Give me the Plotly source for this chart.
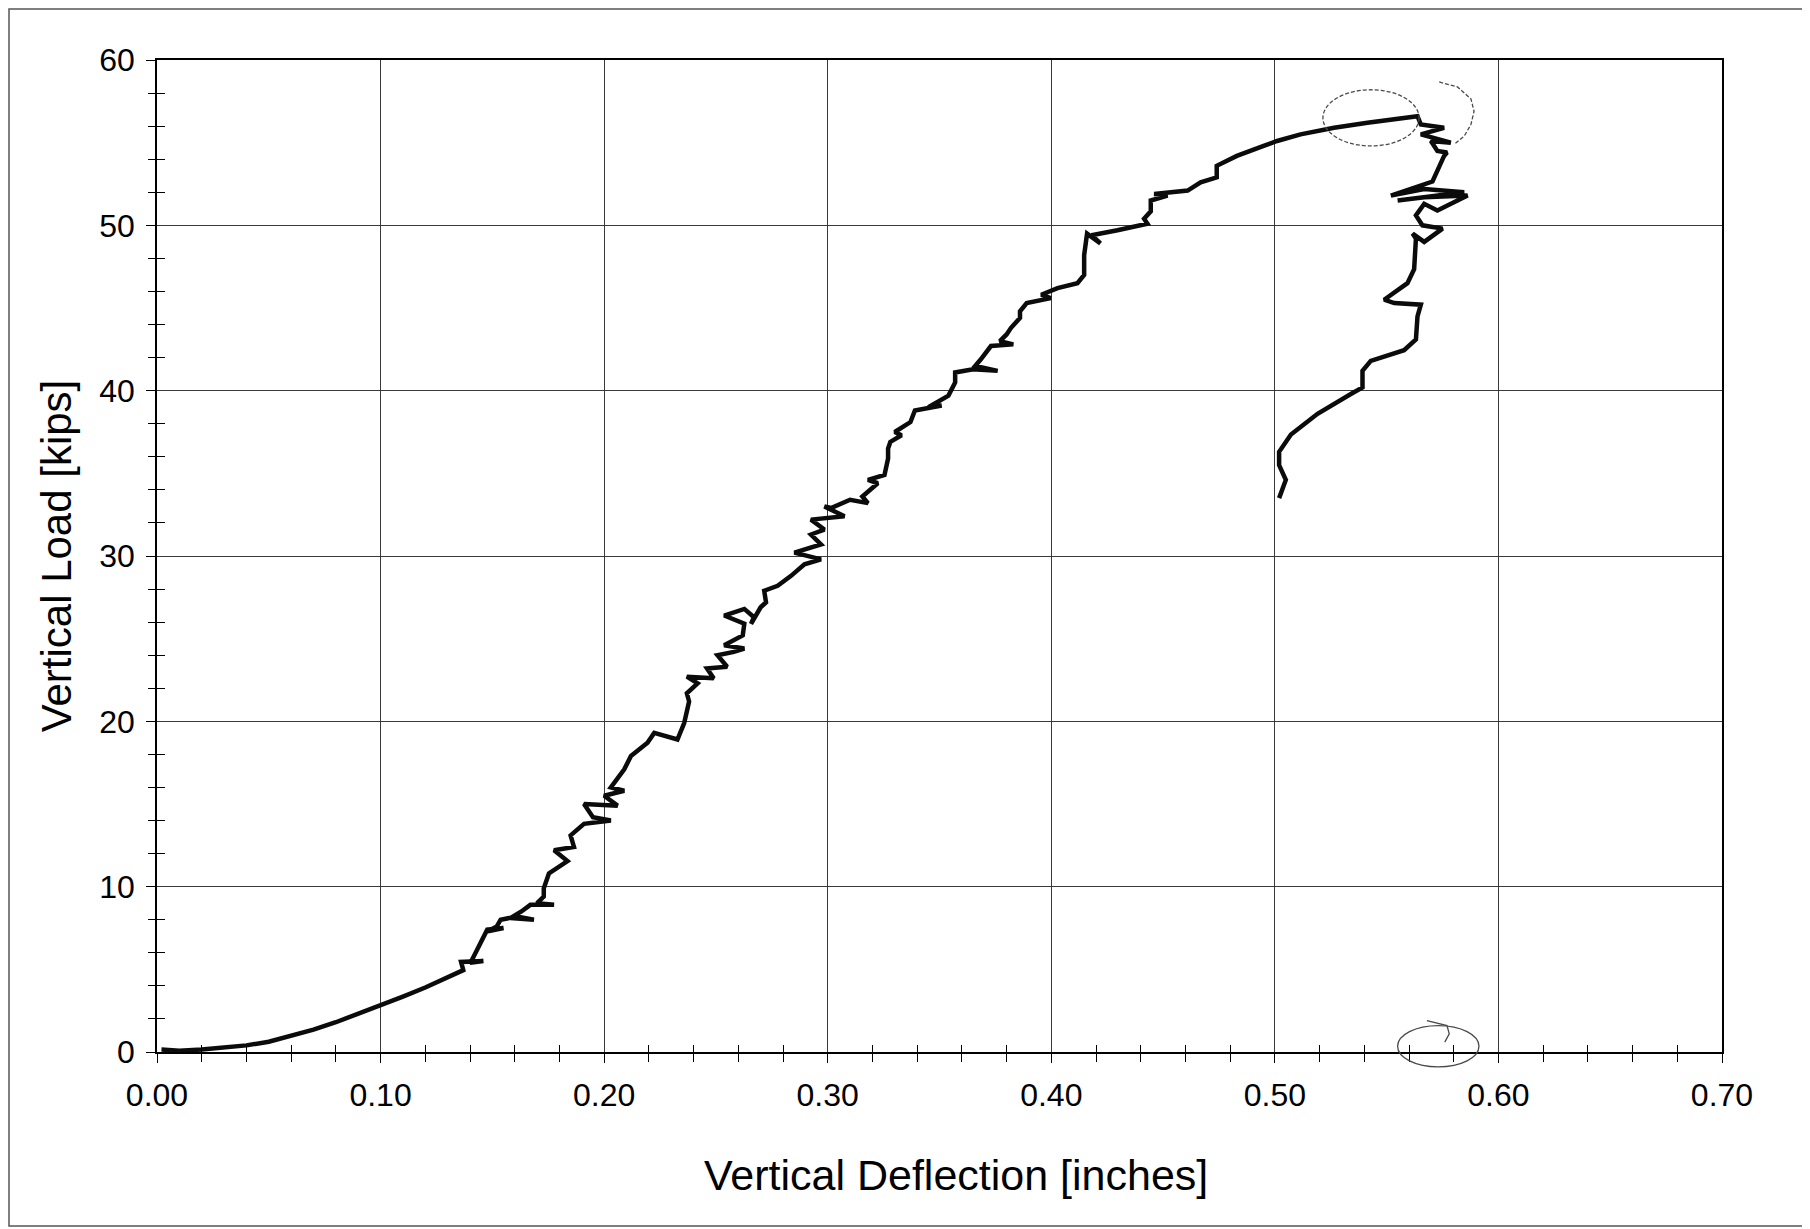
import plotly.graph_objects as go

# ---- data ----
deflection = [
    0.002, 0.005, 0.010, 0.020, 0.030, 0.040, 0.050, 0.060, 0.070, 0.080,
    0.090, 0.100, 0.110, 0.120, 0.130, 0.137,
    0.136, 0.146, 0.140, 0.141,
    0.1477, 0.155, 0.148, 0.152,
    0.1537, 0.161, 0.1686, 0.158,
    0.163, 0.167, 0.1776, 0.170,
    0.173, 0.173, 0.1753, 0.1836, 0.1776, 0.1865, 0.185, 0.191, 0.203, 0.195,
    0.191, 0.206, 0.200, 0.209, 0.203, 0.209, 0.212, 0.2194,
    0.2224, 0.2328, 0.2358, 0.237, 0.238, 0.237, 0.2418, 0.237, 0.249, 0.246,
    0.255, 0.2507, 0.258, 0.2627, 0.2537, 0.262, 0.2627, 0.2537, 0.2627, 0.267,
    0.2657, 0.270, 0.2724, 0.2716, 0.2776, 0.2836, 0.2896, 0.297, 0.2851, 0.297,
    0.2925, 0.2985, 0.2925, 0.3075, 0.2985, 0.3015,
    0.310, 0.318, 0.3155, 0.3224, 0.318, 0.3254, 0.327, 0.327, 0.328, 0.333,
    0.330, 0.337, 0.339, 0.351, 0.345, 0.354, 0.357, 0.357, 0.365, 0.376,
    0.366, 0.3685, 0.373, 0.383, 0.377, 0.380, 0.382, 0.386, 0.386, 0.389,
    0.3998, 0.3955, 0.4028, 0.4117, 0.4147, 0.4147, 0.4154, 0.416, 0.422, 0.418,
    0.4296, 0.443, 0.4415, 0.4445, 0.4445, 0.452, 0.446, 0.461, 0.4668, 0.474,
    0.474, 0.483, 0.495, 0.501, 0.5115, 0.5265, 0.5414, 0.5564, 0.5638,
    0.5653, 0.5757, 0.5653, 0.5787, 0.5698, 0.5727, 0.577, 0.5757,
    0.5705,
    0.5519, 0.5668, 0.5847, 0.5549, 0.5668, 0.5862, 0.5727, 0.5668,
    0.5631, 0.566, 0.575, 0.5668, 0.5616, 0.5631, 0.5623, 0.5593, 0.5489, 0.5534,
    0.5653, 0.5638, 0.5631, 0.5578, 0.5429, 0.5392, 0.5392, 0.534, 0.5191, 0.5072,
    0.5019, 0.5019, 0.5049, 0.5019,
]
load = [
    0.15, 0.10, 0.08, 0.15, 0.25, 0.40, 0.62, 0.95, 1.35, 1.80,
    2.30, 2.85, 3.35, 3.90, 4.50, 4.95,
    5.45, 5.50, 5.40, 5.60,
    7.40, 7.50, 7.30, 7.60,
    8.00, 8.20, 8.00, 8.10,
    8.50, 8.90, 8.90, 9.00,
    9.40, 9.90, 10.8, 11.55, 12.2, 12.4, 13.1, 13.8, 14.0, 14.2,
    15.0, 14.9, 15.5, 15.8, 16.0, 17.1, 17.9, 18.7,
    19.3, 18.9, 19.9, 20.6, 21.2, 21.7, 22.3, 22.7, 22.6, 23.2,
    23.3, 24.0, 24.2, 24.4, 24.6, 25.2, 25.9, 26.4, 26.8, 26.3,
    25.9, 26.9, 27.2, 27.9, 28.2, 28.8, 29.5, 29.8, 30.2, 30.7,
    31.3, 31.6, 32.2, 32.4, 33.0, 32.9,
    33.4, 33.2, 33.6, 34.4, 34.6, 34.9, 35.9, 36.5, 36.9, 37.3,
    37.5, 38.1, 38.8, 39.1, 39.0, 39.7, 40.5, 41.1, 41.3, 41.2,
    41.5, 41.9, 42.7, 42.8, 43.0, 43.4, 43.8, 44.4, 44.8, 45.3,
    45.6, 45.8, 46.2, 46.5, 47.0, 48.2, 49.2, 49.5, 48.9, 49.4,
    49.7, 50.1, 50.4, 50.85, 51.5, 51.8, 51.9, 52.1, 52.6, 52.9,
    53.6, 54.2, 54.8, 55.1, 55.5, 55.9, 56.2, 56.5, 56.6,
    56.1, 55.9, 55.5, 55.0, 55.1, 54.5, 54.4, 54.2,
    52.65,
    51.8, 52.2, 52.0, 51.5, 51.7, 51.8, 50.9, 51.3,
    50.6, 50.0, 49.8, 49.0, 49.5, 49.2, 47.35, 46.5, 45.5, 45.3,
    45.2, 44.5, 43.1, 42.45, 41.8, 41.2, 40.2, 39.8, 38.6, 37.35,
    36.3, 35.5, 34.6, 33.5,
]

x_range = [0.0, 0.7]
y_range = [0, 60]
x_title = "Vertical Deflection [inches]"
y_title = "Vertical Load [kips]"

# pencil marks on the scanned page (deflection, load)
pencil_arc_x = [0.5735, 0.5817, 0.5877, 0.5891, 0.5877, 0.5847, 0.5802]
pencil_arc_y = [58.67, 58.37, 57.65, 56.9, 56.1, 55.4, 54.9]
pencil_hook_x = [0.568, 0.577, 0.578, 0.576]
pencil_hook_y = [1.9, 1.6, 1.1, 0.6]

FONT = "Liberation Sans, Arial, sans-serif"
W, H = 1810, 1229
OFF = 8  # page offset of the figure inside the browser
ML, MR, MT, MB = 149, 96, 52, 185

fig = go.Figure()
fig.add_trace(go.Scatter(
    x=deflection, y=load, mode="lines",
    line=dict(color="#0b0b0b", width=4.5),
    hoverinfo="skip", showlegend=False,
))
# dummy trace to activate the overlay axes (inner tick marks)
fig.add_trace(go.Scatter(x=[None], y=[None], xaxis="x2", yaxis="y2",
                         showlegend=False, hoverinfo="skip"))

axis_common = dict(
    showgrid=True, gridcolor="#3a3a3a", gridwidth=1,
    showline=True, linecolor="black", linewidth=1.5, mirror=True,
    ticks="outside", ticklen=9, tickwidth=1.2, tickcolor="black",
    zeroline=False,
    tickfont=dict(family=FONT, size=32, color="black"),
)

# --- helpers: screen pixel -> paper coordinates ---
pw, ph = W - ML - MR, H - MT - MB
def px(xp):
    return (xp - OFF - ML) / pw
def py(yp):
    return (H - MB - (yp - OFF)) / ph

fig.update_layout(
    width=W, height=H,
    margin=dict(l=ML, r=MR, t=MT, b=MB),
    paper_bgcolor="white", plot_bgcolor="white",
    font=dict(family=FONT, color="black"),
    xaxis=dict(
        axis_common, range=x_range, tick0=0, dtick=0.1, tickformat=".2f",
        minor=dict(dtick=0.02, ticks="outside", ticklen=8, tickwidth=1.2,
                   tickcolor="black", showgrid=False),
        ticklabelstandoff=5,
    ),
    yaxis=dict(
        axis_common, range=y_range, tick0=0, dtick=10,
        minor=dict(dtick=2, ticks="outside", ticklen=7, tickwidth=1.2,
                   tickcolor="black", showgrid=False),
        ticklabelstandoff=5,
        title=dict(text=y_title, font=dict(family=FONT, size=42, color="black"),
                   standoff=15),
    ),
    xaxis2=dict(overlaying="x", anchor="y2", range=x_range, showgrid=False,
                showline=False, zeroline=False, showticklabels=False,
                ticks="", minor=dict(dtick=0.02, ticks="inside", ticklen=7,
                                     tickwidth=1.2, tickcolor="black")),
    yaxis2=dict(overlaying="y", anchor="x2", side="left", range=y_range,
                showgrid=False, showline=False, zeroline=False,
                showticklabels=False, ticks="",
                minor=dict(dtick=2, ticks="inside", ticklen=8,
                           tickwidth=1.2, tickcolor="black")),
)

# x-axis title (slightly right of the plot centre, as in the scan)
fig.add_annotation(text=x_title, xref="paper", yref="paper",
                   x=px(956), y=py(1175), xanchor="center", yanchor="middle",
                   showarrow=False,
                   font=dict(family=FONT, size=43, color="black"))

# --- scanned page frame ---
fig.add_shape(type="rect", xref="paper", yref="paper",
              x0=px(9), x1=px(1803), y0=py(1226), y1=py(9),
              line=dict(color="#555555", width=1.5), layer="below")

# --- pencil marks ---
pencil = dict(color="#4a4a4a", width=1.3, dash="4px,2px")
fig.add_shape(type="circle", xref="x", yref="y",
              x0=0.5215, x1=0.5645, y0=54.8, y1=58.2, line=pencil)
arc = "M " + " L ".join(f"{a},{b}" for a, b in zip(pencil_arc_x, pencil_arc_y))
fig.add_shape(type="path", xref="x", yref="y", path=arc, line=pencil)
xs = x_range[1]
ys = y_range[1]
fig.add_shape(type="circle", xref="paper", yref="paper",
              x0=0.5549 / xs, x1=0.5913 / xs, y0=-0.9 / ys, y1=1.6 / ys,
              line=dict(color="#4a4a4a", width=1.3))
hook = "M " + " L ".join(f"{a / xs},{b / ys}" for a, b in zip(pencil_hook_x, pencil_hook_y))
fig.add_shape(type="path", xref="paper", yref="paper", path=hook,
              line=dict(color="#4a4a4a", width=1.3))

fig.write_html("out.html")
